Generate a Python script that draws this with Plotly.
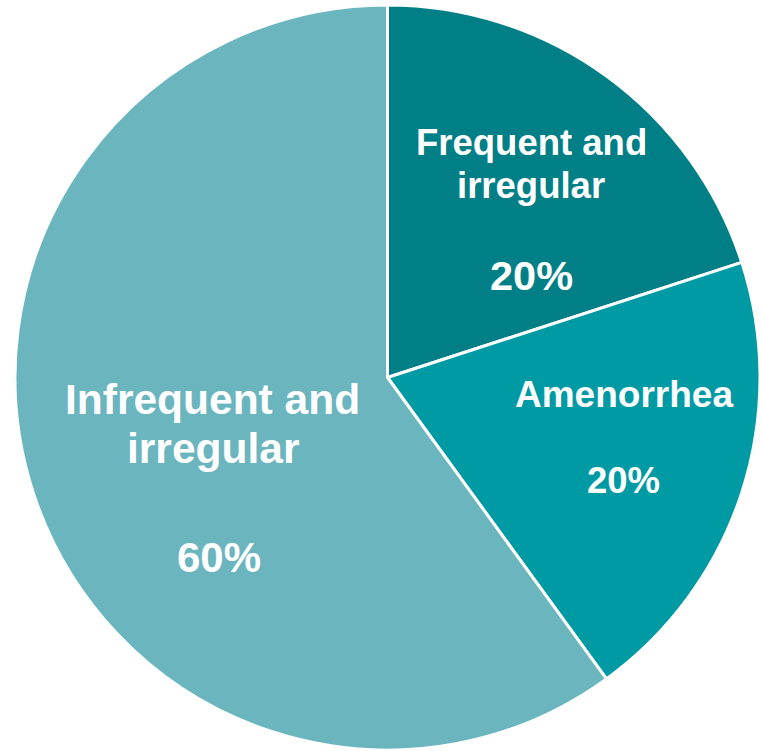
import plotly.graph_objects as go

# ---- data ----
categories = ["Frequent and irregular", "Amenorrhea", "Infrequent and irregular"]
values = [20, 20, 60]
label_lines = [["Frequent and", "irregular"], ["Amenorrhea"], ["Infrequent and", "irregular"]]
colors = ["#007F87", "#009AA5", "#6BB5BF"]

W, H = 762, 751
CX, CY, R = 387.5, 377.5, 372.5

# label layout (pixel centre-x, baseline-y, font size) per line; percent separately
line_layout = [
    [(531, 155, 36.5), (531, 198, 36.5)],
    [(624, 407, 37)],
    [(212.5, 414, 42.5), (212.5, 463, 42.5)],
]
pct_layout = [(531, 290, 41.5), (623, 493, 36.5), (219, 572, 42)]

total = sum(values)
pcts = [f"{round(v / total * 100)}%" for v in values]

fig = go.Figure(go.Pie(
    labels=categories,
    values=values,
    sort=False,
    direction="clockwise",
    rotation=0,
    marker=dict(colors=colors, line=dict(color="white", width=3)),
    textinfo="none",
    hoverinfo="label+percent",
    showlegend=False,
    domain=dict(x=[(CX - R) / W, (CX + R) / W], y=[(H - CY - R) / H, (H - CY + R) / H]),
))

FONT = "Liberation Sans, Arial, sans-serif"
annotations = []

def add(text, px, base, size):
    yc = base - 0.3465 * size
    annotations.append(dict(
        text=f"<b>{text}</b>", x=px / W, y=1 - yc / H, xref="paper", yref="paper",
        xanchor="center", yanchor="middle", showarrow=False,
        font=dict(family=FONT, size=size, color="white"),
    ))

for lines, lays, pct, play in zip(label_lines, line_layout, pcts, pct_layout):
    for t, (px, base, size) in zip(lines, lays):
        add(t, px, base, size)
    add(pct, *play)

fig.update_layout(
    width=W, height=H,
    margin=dict(l=0, r=0, t=0, b=0),
    paper_bgcolor="white", plot_bgcolor="white",
    annotations=annotations,
)

fig.write_html("out.html")
